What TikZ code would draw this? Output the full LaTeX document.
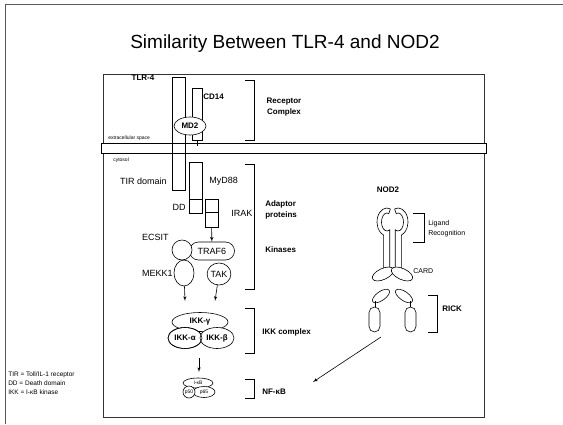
\documentclass[tikz,border=0pt]{standalone}
\usepackage{fontspec}
\setmainfont{Liberation Sans}
\usepackage{tikz}
\usetikzlibrary{arrows}
\usetikzlibrary{positioning}
\usetikzlibrary{shapes.geometric}
\tikzset{bar/.style = {draw, minimum width=13pt, inner sep=0pt},
         lbl/.style = {font=\fontsize{9}{10}\selectfont, inner sep=0pt},
         blbl/.style = {font=\bfseries\fontsize{8}{11}\selectfont, inner sep=0pt},
         tinylbl/.style = {font=\fontsize{5}{6}\selectfont, inner sep=0pt},
         prot/.style = {draw, ellipse, fill=white, inner sep=0pt}}
% one NOD2 monomer, drawn left of the axis
\newcommand\nodhalf{%
  \draw (-2.08,208.84) arc (290:110:10 and 14) -- (-8.92,268);
  \draw (-3.62,213.54) arc (290:60:5.5 and 9) -- (-2.75,268);
  \draw (-2.08,208.84) -- (-3.62,213.54);
  \draw [fill=white, rotate around={25:(-9.5,274)}] (-9.5,274) ellipse (11.5 and 5.5);
  \draw [fill=white, rotate around={35:(-11.5,296)}] (-11.5,296) ellipse (10 and 4.5);
  \draw (-17.5,301) -- (-17.5,307);
  \draw [rounded corners=5.5pt] (-23.5,307) rectangle (-12.5,332);
}

\begin{document}
\begin{tikzpicture}[x=1pt, y=-1pt, line width=0.6pt]
      \useasboundingbox (0,0) rectangle (563,424);
      \draw [black!65, line width=1pt] (5.5,424) -- (5.5,4.5) -- (563,4.5);
      \node [font=\fontsize{19}{22}\selectfont] (title) at (285,44) {Similarity Between TLR-4 and NOD2};

      % cell and membrane
      \draw [black!80] (103,74) rectangle (484,417);
      \fill [white] (101,143) rectangle (486,153);
      \draw (101,143) rectangle (486,153);
      \draw [line width=1pt] (101,153) -- (486,153);
      \node [tinylbl, anchor=west] (extra) at (108,138) {extracellular space};
      \node [tinylbl, anchor=west] (cyto) at (113,160) {cytosol};

      % receptor complex
      \node [blbl] (tlrlbl) at (143,78) {TLR-4};
      \node [bar, minimum height=113pt] (tlr) at (178.5,133.5) {};
      \node [bar, minimum width=10pt, minimum height=52pt] (cd) at (197,114) {};
      \draw (cd.south) -- ++(0,6);
      \node [blbl, anchor=west] (cdlbl) at (203,97) {CD14};
      \node [prot, minimum width=32pt, minimum height=18pt, font=\bfseries\fontsize{8}{9}\selectfont] (md) at (190,126) {MD2};
      \draw (245,80) -| (254,140) -- (245,140);
      \node [blbl, align=center] (reclbl) at (284,107) {Receptor\\Complex};

      % adaptors
      \node [lbl, anchor=east] (tirlbl) at (167,181) {TIR domain};
      \node [bar, minimum height=37pt] (myd) at (195.5,180.5) {};
      \node [bar, minimum height=14pt] (dd) at (195.5,206) {};
      \node [lbl, anchor=west] (mydlbl) at (209,181) {MyD88};
      \node [lbl, anchor=east] (ddlbl) at (186,207) {DD};
      \node [bar, minimum height=13pt] (iraka) at (211.5,205.5) {};
      \node [bar, minimum height=15pt] (irakb) at (211.5,219.5) {};
      \node [lbl, anchor=west] (iraklbl) at (231,213) {IRAK};

      % kinases
      \node [draw, rounded corners=9pt, minimum width=45pt, minimum height=18pt, lbl] (traf) at (212,251) {TRAF6};
      \node [draw, circle, fill=white, minimum size=20pt, inner sep=0pt] (ecsit) at (182,250) {};
      \node [lbl, anchor=east] (ecsitlbl) at (169,237) {ECSIT};
      \node [prot, minimum width=20pt, minimum height=26pt] (mekk) at (184,273) {};
      \node [lbl, anchor=east] (mekklbl) at (173,273) {MEKK1};
      \node [prot, minimum width=18pt, minimum height=22pt, lbl] (tak) at (219,274) {TAK};
      \draw (245,164) -| (254,289) -- (245,289);
      \node [blbl, align=left, anchor=west] (adlbl) at (265,210) {Adaptor\\proteins};
      \node [blbl, anchor=west] (kinlbl) at (265,250) {Kinases};

      \coordinate (ikkin1) at (185,301);
      \coordinate (ikkin2) at (215,301);
      \draw [-latex'] (irakb) -- (traf);
      \draw [-latex'] (mekk) -- (ikkin1);
      \draw [-latex'] (tak) -- (ikkin2);

      % IKK complex
      \node [prot, minimum width=56pt, minimum height=19pt, font=\bfseries\fontsize{8}{9}\selectfont] (ikkg) at (200,322) {IKK-γ};
      \node [prot, minimum width=34pt, minimum height=21pt, font=\bfseries\fontsize{8}{9}\selectfont] (ikka) at (185,338) {IKK-α};
      \node [prot, minimum width=34pt, minimum height=21pt, font=\bfseries\fontsize{8}{9}\selectfont] (ikkb) at (217,338) {IKK-β};
      \draw (185,338) ellipse (17 and 10.5);
      \draw (245,308) -| (254,353) -- (245,353);
      \node [blbl, anchor=west] (ikklbl) at (262,332) {IKK complex};

      % NF-kB
      \coordinate (ikkout) at (199,358);
      \coordinate (nfin) at (199,372);
      \draw [-latex'] (ikkout) -- (nfin);
      \node [prot, minimum width=30pt, minimum height=10pt, tinylbl] (ikb) at (198,383) {I-κB};
      \node [prot, minimum width=22pt, minimum height=11pt, tinylbl] (psixtyfive) at (204,392) {p65};
      \node [draw, circle, fill=white, minimum size=12pt, tinylbl] (pfifty) at (189,392) {p50};
      \draw (245,379) -| (254,398) -- (245,398);
      \node [blbl, anchor=west] (nflbl) at (262,392) {NF-κB};

      % NOD2
      \node [blbl] (nodlbl) at (388,190) {NOD2};
      \begin{scope}[shift={(392.5,0)}]
        \nodhalf
      \end{scope}
      \begin{scope}[shift={(392.5,0)}, xscale=-1]
        \nodhalf
      \end{scope}
      \draw (413,213) -| (424,242) -- (413,242);
      \node [lbl, font=\fontsize{7}{10}\selectfont, align=left, anchor=west] (liglbl) at (428,229) {Ligand\\Recognition};
      \node [lbl, font=\fontsize{7}{8}\selectfont, anchor=west] (cardlbl) at (413,271) {CARD};
      \draw (428,295) -| (437,332) -- (428,332);
      \node [blbl, anchor=west] (ricklbl) at (442,309) {RICK};
      \coordinate (rickout) at (381,337);
      \coordinate (nfkbin) at (313,382);
      \draw [-latex'] (rickout) -- (nfkbin);

      % legend
      \node [font=\fontsize{6.5}{9}\selectfont, align=left, anchor=north west, inner sep=0pt] (legend) at (8,371) {TIR = Toll/IL-1 receptor\\DD = Death domain\\IKK = I-κB kinase};
\end{tikzpicture}
\end{document}
